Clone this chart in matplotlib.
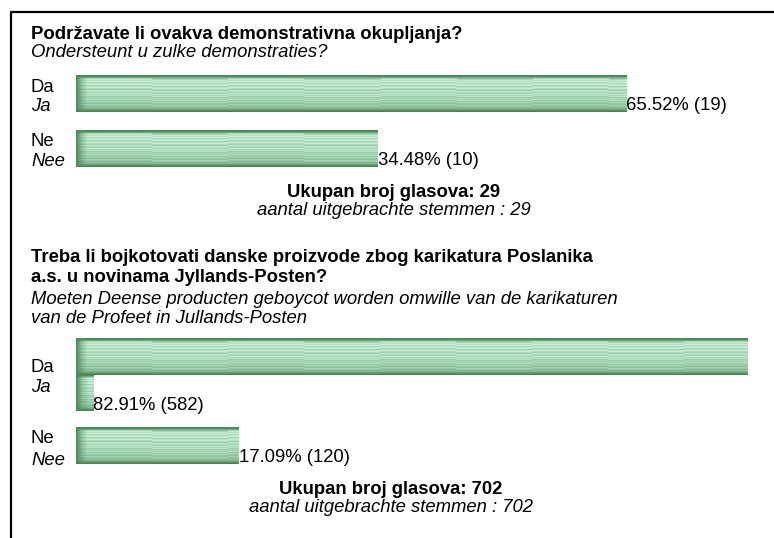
import numpy as np
import matplotlib
matplotlib.use("Agg")
import matplotlib.pyplot as plt

plt.rcParams["font.family"] = ["Liberation Sans", "DejaVu Sans"]

# poll data
q1_title = "Podržavate li ovakva demonstrativna okupljanja?"
q1_sub = "Ondersteunt u zulke demonstraties?"
q2_title = ["Treba li bojkotovati danske proizvode zbog karikatura Poslanika",
            "a.s. u novinama Jyllands-Posten?"]
q2_sub = ["Moeten Deense producten geboycot worden omwille van de karikaturen",
          "van de Profeet in Jullands-Posten"]
answers = ["Da", "Ne"]
answers_nl = ["Ja", "Nee"]
q1_pct = [65.52, 34.48]
q1_votes = [19, 10]
q2_pct = [82.91, 17.09]
q2_votes = [582, 120]
totals = [29, 702]

W, H = 774, 538
PX = 72 / 100  # px -> pt at dpi 100
BAR_X0 = 76
BAR_MAX = 672
BAR_H = 37
PX_PER_PCT = 8.0
BAR_CAP = 26
TILE = 76

FS = 18.5 * PX

ROWS = ["#4f8a5b", "#4f8a5b", "#78ad84", "#a6d6b5", "#c3ead1", "#b2e0c1",
        "#cdf0da", "#a9d9b8", "#bfe7cc", "#c9eed6", "#a3d4b2", "#b8e3c7",
        "#c4ebd2", "#aedcbd", "#9fd0ae", "#bde6cb", "#b0ddbf", "#a5d5b4",
        "#c0e8ce", "#a8d8b7", "#b6e2c5", "#9ccdab", "#aad9b9", "#a0d1af",
        "#b3dfc2", "#98c9a7", "#a4d4b3", "#9acba9", "#8fc29e", "#a2d2b1",
        "#92c5a1", "#88bb97", "#8ec19c", "#7fb38c", "#6fa27b", "#56905f",
        "#4a8255"]


def bar_image(width):
    col = np.array([matplotlib.colors.to_rgb(c) for c in ROWS])
    w = max(int(round(width)), 1)
    img = np.repeat(col[:, None, :], w, axis=1)
    # stripe pattern shifts a little from tile to tile
    for k, start in enumerate(range(0, w, TILE)):
        if k % 2 == 1:
            img[3:-4, start:start + TILE] = np.roll(img[3:-4, start:start + TILE], 1, axis=0)
    dark = np.array(matplotlib.colors.to_rgb("#4f8a5b"))
    n = min(12, w)
    for i in range(n):
        t = (1 - i / 12) ** 1.5
        img[2:-2, i] = img[2:-2, i] * (1 - t) + dark * t
    return img


def draw_bar(ax, y, pct, votes):
    width = PX_PER_PCT * pct + BAR_CAP
    first = min(width, BAR_MAX)
    ax.imshow(bar_image(first), extent=(BAR_X0, BAR_X0 + first, y + BAR_H, y),
              aspect="auto", interpolation="nearest", zorder=2)
    end_x, end_y = BAR_X0 + first, y + BAR_H
    if width > BAR_MAX:
        rest = width - BAR_MAX
        y2 = y + BAR_H
        ax.imshow(bar_image(rest), extent=(BAR_X0, BAR_X0 + rest, y2 + BAR_H - 1, y2 - 1),
                  aspect="auto", interpolation="nearest", zorder=2)
        end_x, end_y = BAR_X0 + rest, y2 + BAR_H
    ax.text(end_x, end_y - 2, f"{pct:.2f}% ({votes})", fontsize=FS,
            ha="left", va="baseline")


def draw_answer(ax, y1, y2, a, a_nl):
    ax.text(31, y1, a, fontsize=FS, va="baseline")
    ax.text(31, y2, a_nl, fontsize=FS, style="italic", va="baseline")


def draw_total(ax, y, total, cx):
    ax.text(cx, y, f"Ukupan broj glasova: {total}", fontsize=FS,
            weight="bold", ha="center", va="baseline")
    ax.text(cx, y + 18, f"aantal uitgebrachte stemmen : {total}", fontsize=FS,
            style="italic", ha="center", va="baseline")


fig = plt.figure(figsize=(W / 100, H / 100), dpi=100)
ax = fig.add_axes([0, 0, 1, 1])

# frame
ax.plot([10.5, 10.5], [12, H], color="black", lw=1.6, solid_capstyle="butt")
ax.plot([10, W], [12, 12], color="black", lw=1.6, solid_capstyle="butt")

# question 1
ax.text(31, 39, q1_title, fontsize=FS, weight="bold", va="baseline")
ax.text(31, 57, q1_sub, fontsize=FS, style="italic", va="baseline")
draw_answer(ax, 92, 111, answers[0], answers_nl[0])
draw_bar(ax, 75, q1_pct[0], q1_votes[0])
draw_answer(ax, 146, 166, answers[1], answers_nl[1])
draw_bar(ax, 130, q1_pct[1], q1_votes[1])
draw_total(ax, 197, totals[0], 394)

# question 2
for j, line in enumerate(q2_title):
    ax.text(31, 262 + 20 * j, line, fontsize=FS, weight="bold", va="baseline")
for j, line in enumerate(q2_sub):
    ax.text(31, 304 + 19 * j, line, fontsize=FS, style="italic", va="baseline")
draw_answer(ax, 372, 392, answers[0], answers_nl[0])
draw_bar(ax, 338, q2_pct[0], q2_votes[0])
draw_answer(ax, 443, 465, answers[1], answers_nl[1])
draw_bar(ax, 427, q2_pct[1], q2_votes[1])
draw_total(ax, 494, totals[1], 391)

ax.set_xlim(0, W)
ax.set_ylim(H, 0)
ax.axis("off")

fig.savefig("out.png", dpi=100)
